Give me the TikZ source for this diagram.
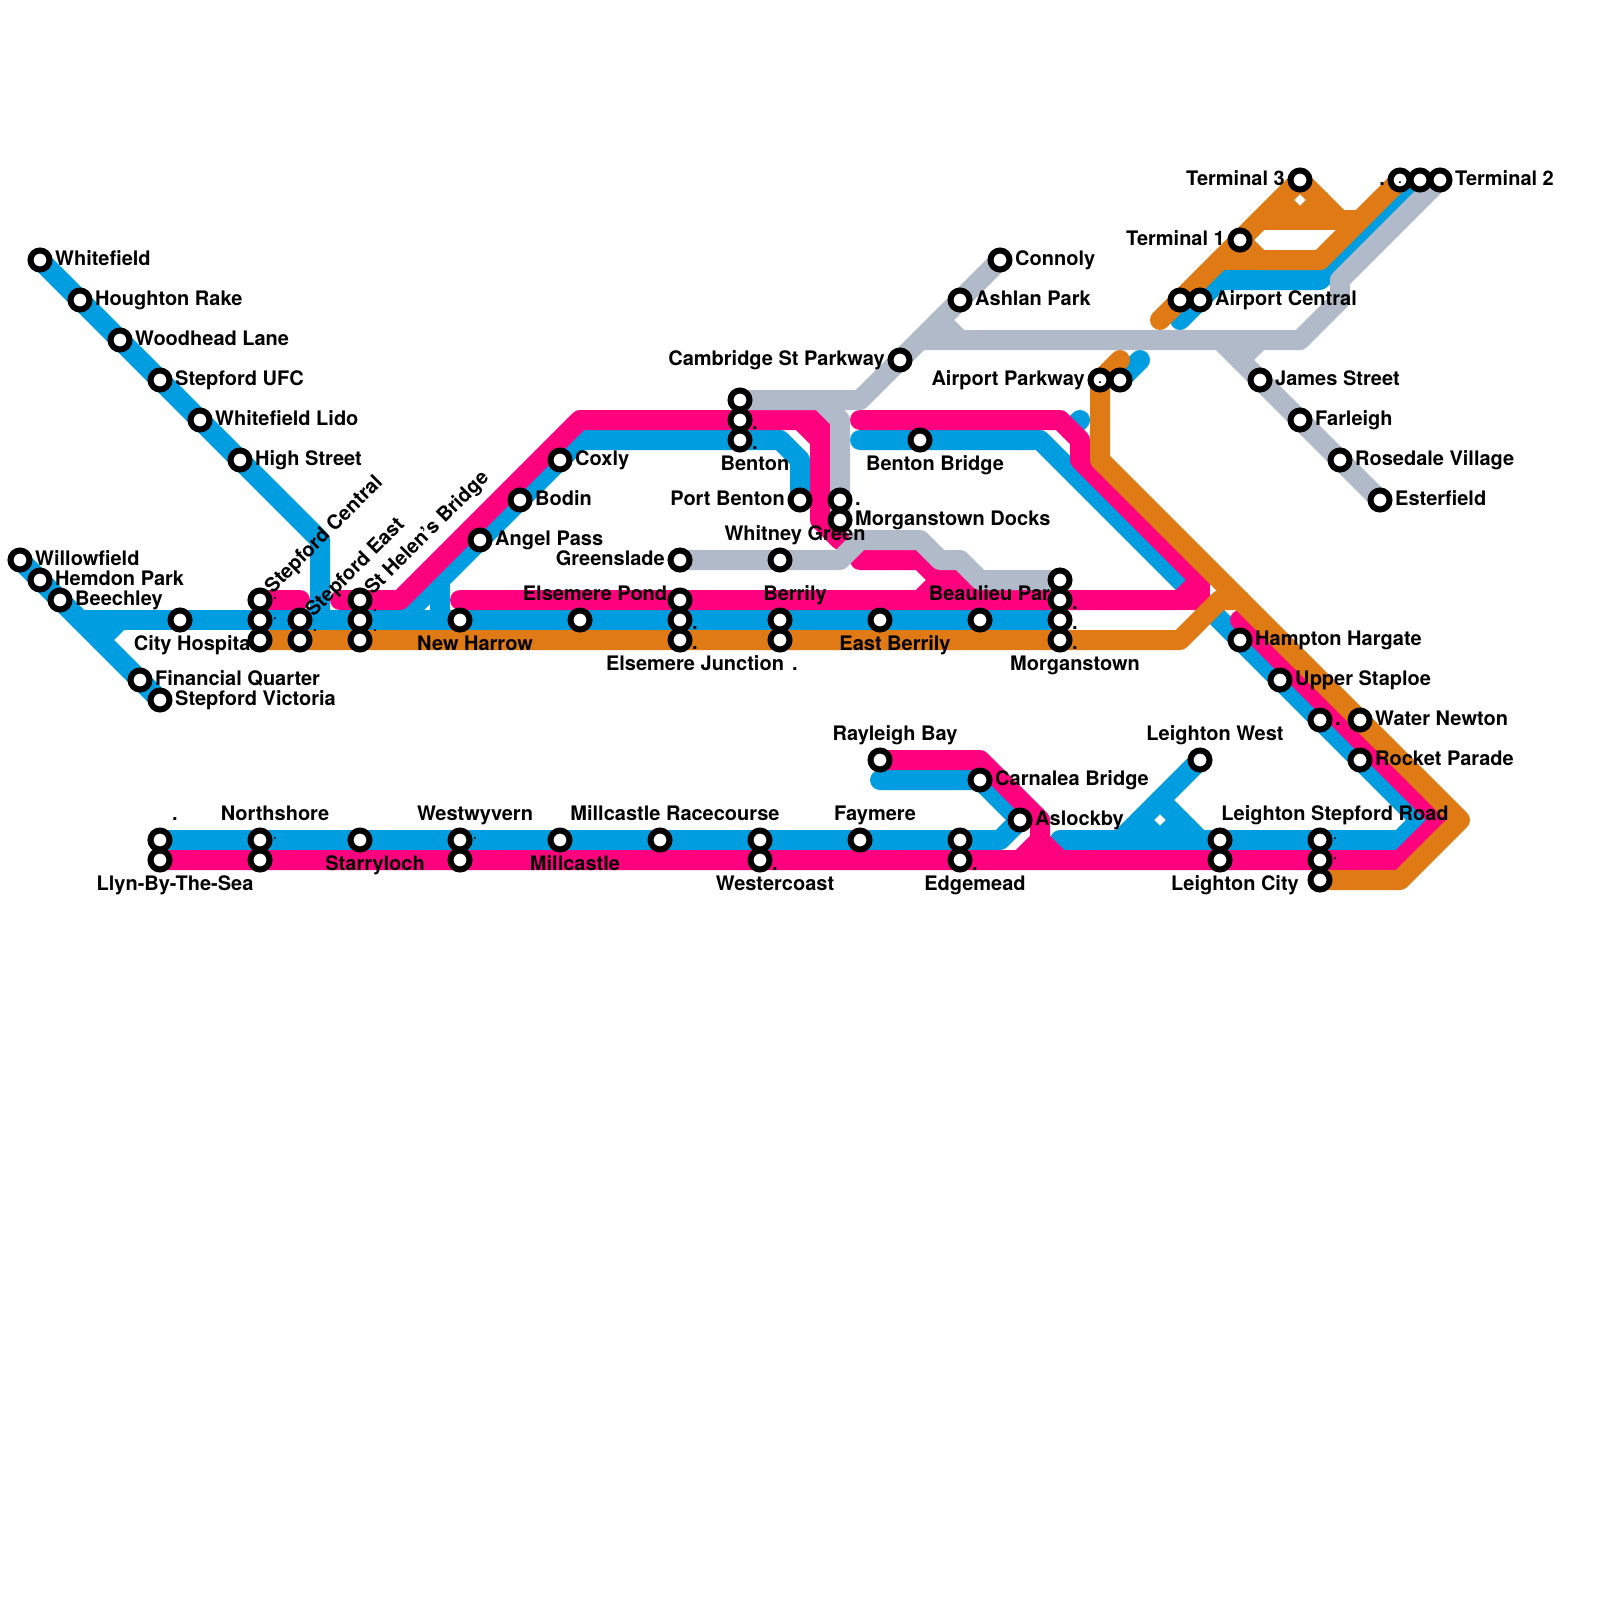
\documentclass[tikz,border=0pt]{standalone}
\usepackage{fontspec}
\setmainfont{TeX Gyre Heros}
\definecolor{mblue}{HTML}{009EE0}
\definecolor{mpink}{HTML}{FF007F}
\definecolor{morange}{HTML}{E07A14}
\definecolor{mgrey}{HTML}{B0BAC8}
\tikzset{
  route/.style={line width=20pt,line cap=round,line join=round},
  stn/.style={circle,draw=black,fill=white,line width=6pt,minimum size=19pt,inner sep=0pt},
  lab/.style={font=\fontsize{20}{24}\selectfont\bfseries,inner sep=0pt,text=black},
  rlab/.style={lab,anchor=base west,xshift=15pt,yshift=-5pt},
  llab/.style={lab,anchor=base east,xshift=-15pt,yshift=-5pt},
  alab/.style={lab,anchor=base,xshift=15pt,yshift=20pt},
  blab/.style={lab,anchor=base,xshift=15pt,yshift=-30pt},
  tinydot/.style={font=\fontsize{12}{14}\selectfont\bfseries,inner sep=0pt,anchor=base,text=black},
  rotlab/.style={lab,anchor=base west,rotate=45},
}
\begin{document}
\begin{tikzpicture}[x=1pt,y=-1pt]
\useasboundingbox (0,0) rectangle (1600,1600);
\fill[white] (0,0) rectangle (1600,1600);
% stations and bends
\foreach \n/\x/\y in {
 whitefield/40/260,houghton/80/300,woodhead/120/340,ufc/160/380,lido/200/420,high/240/460,
 willow/20/560,hemdon/40/580,beech/60/600,fin/140/680,vic/160/700,city/180/620,
 ca/260/600,cb/260/620,cc/260/640,ea/300/620,eb/300/640,ha/360/600,hb/360/620,hc/360/640,
 harrow/460/620,angel/480/540,bodin/520/500,coxly/560/460,
 pond/580/620,ja/680/600,jb/680/620,jc/680/640,bera/780/620,berb/780/640,eastb/880/620,beau/980/620,
 ma/1060/580,mb/1060/600,mc/1060/620,md/1060/640,
 green/680/560,whit/780/560,bena/740/400,benb/740/420,benc/740/440,port/800/500,doa/840/500,dob/840/520,bbr/920/440,
 camb/900/360,ash/960/300,conn/1000/260,apa/1100/380,apb/1120/380,aca/1180/300,acb/1200/300,tone/1240/240,tthree/1300/180,tb/1400/180,tc/1420/180,td/1440/180,
 james/1260/380,far/1300/420,rose/1340/460,est/1380/500,
 hamp/1240/640,upper/1280/680,wa/1320/720,water/1360/720,rocket/1360/760,lw/1200/760,
 lsa/1320/840,lsb/1320/860,lsc/1320/880,lca/1220/840,lcb/1220/860,eda/960/840,edb/960/860,asl/1020/820,carn/980/780,ray/880/760,fay/860/840,wea/760/840,web/760/860,race/660/840,mill/560/840,wwa/460/840,wwb/460/860,star/360/840,na/260/840,nb/260/860,lla/160/840,llb/160/860,
 ba/320/540,bb/320/620,bc/80/620,bd/120/620,be/100/640,bf/400/620,bg/580/440,bh/780/440,bi/800/460,bj/440/620,bk/440/580,
 bl/860/440,bm/1040/440,bn/1420/820,bo/1400/840,bp/1060/840,bq/1070/430,br/1080/420,bs/1140/360,bt/1180/320,bu/1220/280,bv/1320/280,bw/1000/840,bx/880/780,
 by/1120/840,bz/1160/800,bzb/1200/840,bzc/1140/820,bzd/1160/840,bze/1180/820,
 pa/300/600,pb/340/600,pc/400/600,pd/580/420,pe/800/420,pf/820/440,pg/820/520,ph/840/540,pea/820/420,
 pi/860/420,pj/1060/420,pk/1080/440,pl/1080/460,pm/1200/580,pn/1180/600,po/460/600,pma/1200/600,
 pp/860/560,pq/920/560,pr/940/580,ps/960/580,pt/980/600,pu/920/600,
 pv/980/760,pw/1040/820,px/1040/840,py/1060/860,pz/1020/860,
 pza/1240/620,pzb/1440/820,pzc/1400/860,
 oa/1120/360,ob/1100/460,oc/1460/820,od/1400/880,oe/1180/640,of/1220/600,og/1240/600,oh/1160/320,oi/1340/220,oj/1260/220,ok/1360/220,ol/1260/260,om/1320/260,on/1280/200,oo/1300/220,op/1320/200,ola/1220/260,
 ga/860/400,gb/820/400,gc/840/420,gd/840/560,ge/860/540,gf/920/540,gg/940/560,gh/960/560,gi/980/580,gj/1340/280,gk/1340/300,gl/1300/340,gm/920/340,gn/1220/340,go/1260/340,gp/1240/360,gq/940/320,gr/960/340}
  \coordinate (\n) at (\x,\y);
% blue
\begin{scope}[route,draw=mblue]
\draw (whitefield) -- (ba) -- (bb);
\draw (willow) -- (vic);
\draw (bc) -- (mc);
\draw (bd) -- (be);
\draw (bf) -- (bg) -- (bh) -- (bi) -- (port);
\draw (bj) -- (bk);
\draw (bl) -- (bm) -- (bn) -- (bo) -- (bp);
\draw (bq) -- (br);
\draw (apb) -- (bs);
\draw (bt) -- (bu) -- (bv) -- (tc);
\draw (lla) -- (bw) -- (asl) -- (carn) -- (bx);
\draw (lw) -- (by);
\draw (bz) -- (bzb);
\draw (bzc) -- (bzd) -- (bze);
\end{scope}
% pink
\begin{scope}[route,draw=mpink]
\draw (ca) -- (pa);
\draw (pb) -- (pc) -- (pd) -- (pe) -- (pf) -- (pg) -- (ph);
\draw (pe) -- (pea) -- (pf);
\draw (pi) -- (pj) -- (pk) -- (pl) -- (pm) -- (pn) -- (po);
\draw (pm) -- (pma) -- (pn);
\draw (pp) -- (pq) -- (pr) -- (ps) -- (pt);
\draw (pr) -- (pu);
\draw (ray) -- (pv) -- (pw) -- (px) -- (py);
\draw (px) -- (pz);
\draw (pza) -- (pzb) -- (pzc) -- (llb);
\end{scope}
% orange
\begin{scope}[route,draw=morange]
\draw (oa) -- (apa) -- (ob) -- (oc) -- (od) -- (lsc);
\draw (cc) -- (oe) -- (of) -- (og);
\draw (oh) -- (tthree) -- (oi);
\draw (oj) -- (ok);
\draw (tone) -- (ol) -- (om);
\draw (ola) -- (ol);
\draw (tb) -- (om);
\draw (on) -- (oo) -- (op);
\end{scope}
% grey
\begin{scope}[route,draw=mgrey]
\draw (bena) -- (ga) -- (conn);
\draw (gb) -- (gc) -- (dob);
\draw (green) -- (gd) -- (ge) -- (gf) -- (gg) -- (gh) -- (gi) -- (ma);
\draw (td) -- (gj) -- (gk) -- (gl) -- (gm);
\draw (gn) -- (est);
\draw (go) -- (gp);
\draw (gq) -- (gr);
\end{scope}
% labels
\foreach \n/\t in {whitefield/Whitefield,houghton/Houghton Rake,woodhead/Woodhead Lane,ufc/Stepford UFC,lido/Whitefield Lido,high/High Street,willow/Willowfield,hemdon/Hemdon Park,beech/Beechley,fin/Financial Quarter,vic/Stepford Victoria,angel/Angel Pass,bodin/Bodin,coxly/Coxly,dob/Morganstown Docks,conn/Connoly,ash/Ashlan Park,acb/Airport Central,td/Terminal 2,james/James Street,far/Farleigh,rose/Rosedale Village,est/Esterfield,hamp/Hampton Hargate,upper/Upper Staploe,water/Water Newton,rocket/Rocket Parade,carn/Carnalea Bridge,asl/Aslockby,doa/.,wa/.}
  \node[rlab] (r\n) at (\n) {\t};
\foreach \n in {mb,mc,md,jb,jc,benb,benc}
  \node[lab,anchor=base,xshift=15pt,yshift=-9pt] (r\n) at (\n) {.};
\foreach \n/\t in {port/Port Benton,green/Greenslade,camb/Cambridge St Parkway,apa/Airport Parkway,tone/Terminal 1,tthree/Terminal 3,tb/.}
  \node[llab] (l\n) at (\n) {\t};
\foreach \n/\t in {whit/Whitney Green,bera/Berrily,pond/Elsemere Pond,beau/Beaulieu Park,na/Northshore,wwa/Westwyvern,race/Millcastle Racecourse,fay/Faymere,ray/Rayleigh Bay,lw/Leighton West,lsa/Leighton Stepford Road,lla/.}
  \node[alab] (a\n) at (\n) {\t};
\foreach \n/\t in {city/City Hospital,harrow/New Harrow,benc/Benton,bbr/Benton Bridge,jc/Elsemere Junction,berb/.,eastb/East Berrily,md/Morganstown,star/Starryloch,mill/Millcastle,web/Westercoast,edb/Edgemead,lcb/Leighton City,llb/Llyn-By-The-Sea,wea/.,eda/.}
  \node[blab] (b\n) at (\n) {\t};
\node[rotlab,xshift=13pt,yshift=-5pt] (qca) at (ca) {Stepford Central};
\node[rotlab,xshift=11pt,yshift=-8pt] (qea) at (ea) {Stepford East};
\node[rotlab,xshift=12pt,yshift=-6pt] (qha) at (ha) {St Helen's Bridge};
\foreach \n in {ca,cb,lsa,lsb,na,wwa}
  \node[tinydot,xshift=15pt,yshift=1pt] (d\n) at (\n) {.};
\foreach \n in {ea,ha,hb}
  \node[tinydot,xshift=15pt,yshift=-11pt] (d\n) at (\n) {.};
% station symbols
\foreach \n in {whitefield,houghton,woodhead,ufc,lido,high,willow,hemdon,beech,fin,vic,city,ca,cb,cc,ea,eb,ha,hb,hc,harrow,angel,bodin,coxly,pond,ja,jb,jc,bera,berb,eastb,beau,ma,mb,mc,md,green,whit,bena,benb,benc,port,doa,dob,bbr,camb,ash,conn,apa,apb,aca,acb,tone,tthree,tb,tc,td,james,far,rose,est,hamp,upper,wa,water,rocket,lw,lsa,lsb,lsc,lca,lcb,eda,edb,asl,carn,ray,fay,wea,web,race,mill,wwa,wwb,star,na,nb,lla,llb}
  \node[stn] (s\n) at (\n) {};
\foreach \n in {apb,tc}
  \node[tinydot,xshift=-20pt,yshift=-3pt] (e\n) at (\n) {.};
\end{tikzpicture}
\end{document}
